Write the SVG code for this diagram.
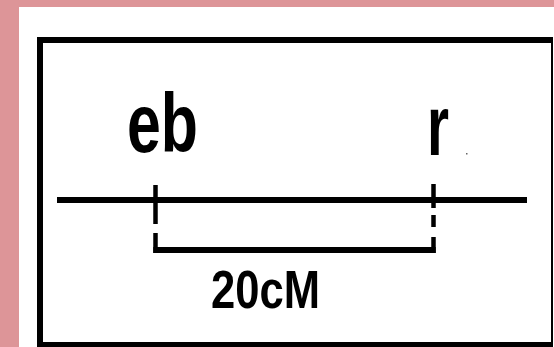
<svg xmlns="http://www.w3.org/2000/svg" width="554" height="347" viewBox="0 0 554 347">
  <style>
    .lbl { font-family: "Liberation Sans", Arial, sans-serif; font-weight: bold; fill: #000; }
    .ln { stroke: #000; fill: none; stroke-linecap: butt; }
  </style>
  <rect x="0" y="0" width="554" height="347" fill="#ffffff"/>
  <g id="background">
    <rect x="0" y="0" width="554" height="7" fill="#dd9598"/>
    <rect x="0" y="0" width="19" height="347" fill="#dd9598"/>
  </g>
  <g id="frame" fill="#000">
    <rect x="37" y="37" width="516" height="6"/>
    <rect x="37" y="37" width="6" height="310"/>
    <rect x="551" y="37" width="2" height="310"/>
    <rect x="37" y="342" width="516" height="5"/>
  </g>
  <g id="connectors">
    <line class="ln" x1="57" y1="200" x2="527" y2="200" stroke-width="6"/>
    <line class="ln" x1="155.5" y1="185" x2="155.5" y2="224" stroke-width="4.5"/>
    <line class="ln" x1="155.5" y1="233" x2="155.5" y2="253" stroke-width="4.5"/>
    <line class="ln" x1="433.5" y1="184" x2="433.5" y2="208" stroke-width="4.5"/>
    <line class="ln" x1="433.5" y1="215" x2="433.5" y2="227" stroke-width="4.5"/>
    <line class="ln" x1="433.5" y1="237" x2="433.5" y2="253" stroke-width="4.5"/>
    <line class="ln" x1="153.3" y1="250" x2="435.7" y2="250" stroke-width="6"/>
  </g>
  <g id="node-eb">
    <text class="lbl" x="127" y="152" font-size="84" textLength="71" lengthAdjust="spacingAndGlyphs">eb</text>
  </g>
  <g id="node-r">
    <text class="lbl" x="427" y="155" font-size="86" textLength="22" lengthAdjust="spacingAndGlyphs">r</text>
    <rect x="466" y="153" width="1.5" height="1.5" fill="#666"/>
  </g>
  <g id="label-distance">
    <text class="lbl" x="211" y="308" font-size="54" textLength="109" lengthAdjust="spacingAndGlyphs">20cM</text>
  </g>
</svg>
